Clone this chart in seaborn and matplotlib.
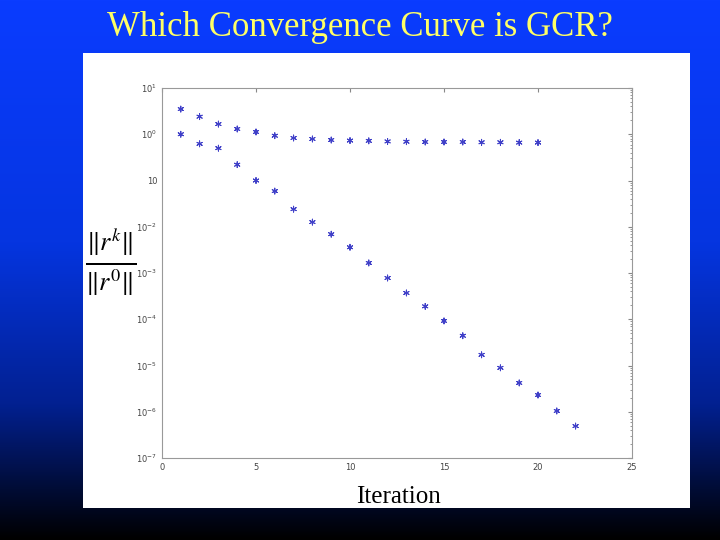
import numpy as np
import pandas as pd
import matplotlib
matplotlib.use("Agg")
import matplotlib.pyplot as plt
import seaborn as sns
from matplotlib.colors import LinearSegmentedColormap

iters_a = list(range(1, 21))
resid_a = [3.5, 2.4, 1.66, 1.3, 1.12, 0.93, 0.83, 0.79, 0.75, 0.73, 0.72, 0.70,
           0.69, 0.68, 0.68, 0.68, 0.67, 0.67, 0.66, 0.66]
iters_b = list(range(1, 23))
resid_b = [1.0, 0.62, 0.5, 0.22, 0.10, 0.059, 0.024, 0.0126, 0.0069, 0.0036,
           1.65e-3, 7.8e-4, 3.7e-4, 1.9e-4, 9.2e-5, 4.4e-5, 1.7e-5, 8.9e-6,
           4.2e-6, 2.3e-6, 1.04e-6, 4.9e-7]
xticks = [0, 5, 10, 15, 20, 25]
yticks = [1e1, 1e0, 1e-1, 1e-2, 1e-3, 1e-4, 1e-5, 1e-6, 1e-7]
ylabels = ['$10^{1}$', '$10^{0}$', '10', '$10^{-2}$', '$10^{-3}$', '$10^{-4}$',
           '$10^{-5}$', '$10^{-6}$', '$10^{-7}$']

df = pd.concat([
    pd.DataFrame({'it': iters_a, 'r': resid_a, 's': 'a'}),
    pd.DataFrame({'it': iters_b, 'r': resid_b, 's': 'b'}),
])

sns.set_style("white")
fig = plt.figure(figsize=(7.2, 5.4), dpi=100)

bg = fig.add_axes([0, 0, 1, 1], zorder=-10)
cmap = LinearSegmentedColormap.from_list('g', [(0, '#0a3cff'), (0.45, '#0535e0'), (0.75, '#022090'), (1, '#000000')])
grad = np.linspace(0, 1, 256).reshape(-1, 1)
bg.imshow(grad, aspect='auto', cmap=cmap, extent=[0, 1, 0, 1], origin='upper')
bg.axis('off')

panel = fig.add_axes([83/720, 1-508/540, (690-83)/720, (508-53)/540], zorder=-5)
panel.set_facecolor('white')
panel.set_xticks([]); panel.set_yticks([])
for s in panel.spines.values():
    s.set_visible(False)

ax = fig.add_axes([162/720, 1-458/540, (632-162)/720, (458-88)/540])
sns.scatterplot(data=df, x='it', y='r', hue='s', palette=['#4040c8', '#4040c8'],
                marker=(6, 2, 0), s=18, linewidth=0.7, legend=False, ax=ax)
ax.set_yscale('log')
ax.set_xlim(0, 25)
ax.set_ylim(1e-7, 1e1)
ax.set_xticks(xticks)
ax.set_xticklabels([str(t) for t in xticks], fontsize=6, color='#444444')
ax.set_yticks(yticks)
ax.set_yticklabels(ylabels, fontsize=6, color='#444444')
ax.tick_params(axis='both', which='both', direction='in', top=True, right=True, length=3, color='#888888')
ax.tick_params(which='minor', length=1.5)
for s in ax.spines.values():
    s.set_color('#999999'); s.set_linewidth(0.8)
ax.set_xlabel(''); ax.set_ylabel('')

fig.text(0.5, 1-27/540, 'Which Convergence Curve is GCR?', ha='center', va='center',
         color='#ffff66', fontsize=25, family='Liberation Serif')
fig.text(398/720, 1-497/540, 'Iteration', ha='center', va='center', color='black',
         fontsize=18, family='Liberation Serif')
fig.text(111/720, 1-262/540, r'$\frac{\Vert r^k\Vert}{\Vert r^0\Vert}$', ha='center', va='center',
         color='black', fontsize=27, math_fontfamily='stix')

fig.savefig('out.png', dpi=100)
